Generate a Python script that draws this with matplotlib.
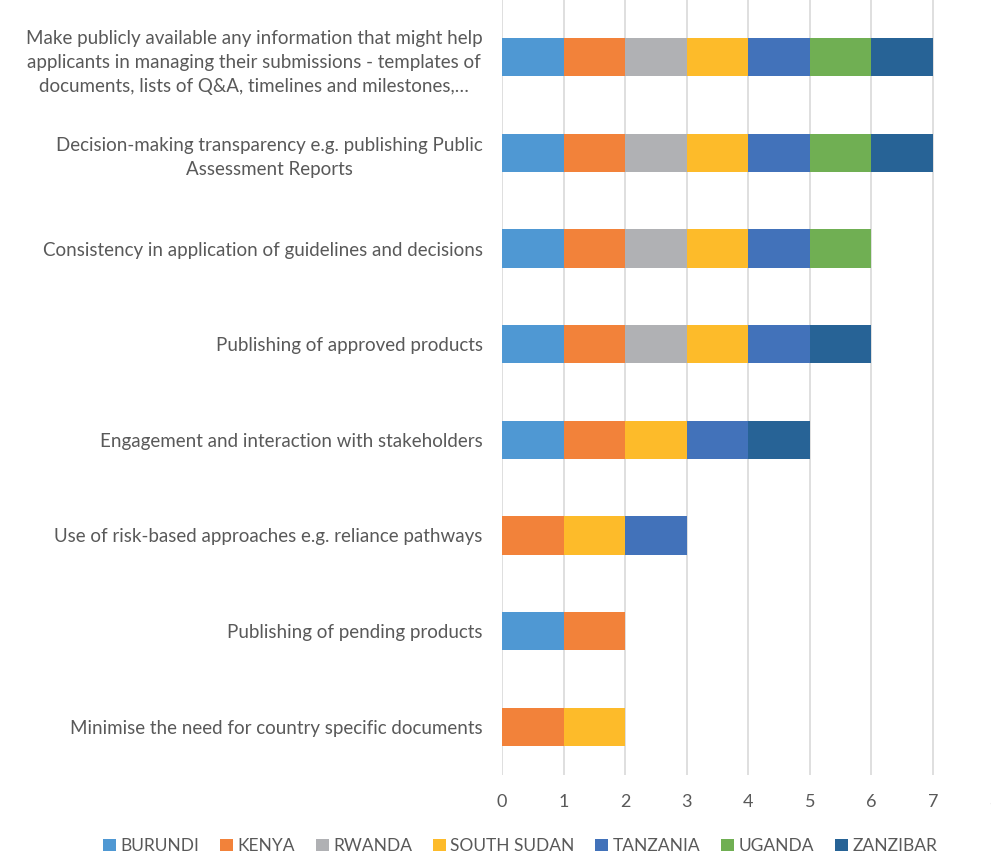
import matplotlib
matplotlib.use("Agg")
import matplotlib.pyplot as plt
import numpy as np

# categorias (de arriba hacia abajo)
categorias = [
    "Make publicly available any information that might help\napplicants in managing their submissions - templates of\ndocuments, lists of Q&A, timelines and milestones,…",
    "Decision-making transparency e.g. publishing Public\nAssessment Reports",
    "Consistency in application of guidelines and decisions",
    "Publishing of approved products",
    "Engagement and interaction with stakeholders",
    "Use of risk-based approaches e.g. reliance pathways",
    "Publishing of pending products",
    "Minimise the need for country specific documents",
]

paises = ["BURUNDI", "KENYA", "RWANDA", "SOUTH SUDAN", "TANZANIA", "UGANDA", "ZANZIBAR"]

burundi     = [1, 1, 1, 1, 1, 0, 1, 0]
kenya       = [1, 1, 1, 1, 1, 1, 1, 1]
rwanda      = [1, 1, 1, 1, 0, 0, 0, 0]
south_sudan = [1, 1, 1, 1, 1, 1, 0, 1]
tanzania    = [1, 1, 1, 1, 1, 1, 0, 0]
uganda      = [1, 1, 1, 0, 0, 0, 0, 0]
zanzibar    = [1, 1, 0, 1, 1, 0, 0, 0]

series = [burundi, kenya, rwanda, south_sudan, tanzania, uganda, zanzibar]
colores = ["#4F98D3", "#F2823A", "#B0B1B4", "#FDBB2A", "#4272BA", "#70AF53", "#276396"]

plt.rcParams['font.family'] = ['Lato', 'DejaVu Sans']

fig = plt.figure(figsize=(9.91, 8.56), dpi=100)
ax = fig.add_axes([502 / 991, 1 - 774.5 / 856, (994.6 - 502) / 991, 774.5 / 856])

y = np.arange(len(categorias))
izquierda = np.zeros(len(categorias))
for nombre, valores, color in zip(paises, series, colores):
    ax.barh(y, valores, left=izquierda, height=0.4, color=color, label=nombre, zorder=3)
    izquierda += np.array(valores)

ax.set_xlim(0, 8)
ax.set_ylim(7.5, -0.6)
ax.set_xticks(range(0, 9))
ax.set_yticks(y)
ax.set_yticklabels(categorias, multialignment='center', linespacing=1.5)
ax.grid(axis='x', color='#D9D9D9', linewidth=1.2, zorder=0)
for s in ax.spines.values():
    s.set_visible(False)
ax.tick_params(axis='both', length=0, colors='#595959')
ax.tick_params(axis='y', pad=14, labelsize=13.5)
ax.tick_params(axis='x', pad=14, labelsize=13)

fig.legend(loc='center', bbox_to_anchor=(520 / 991, 1 - 846 / 856), ncol=7,
           frameon=False, fontsize=12.5, labelcolor='#595959',
           handlelength=0.75, handleheight=0.75, handletextpad=0.25, columnspacing=1.2)

fig.savefig("out.png", dpi=100)
